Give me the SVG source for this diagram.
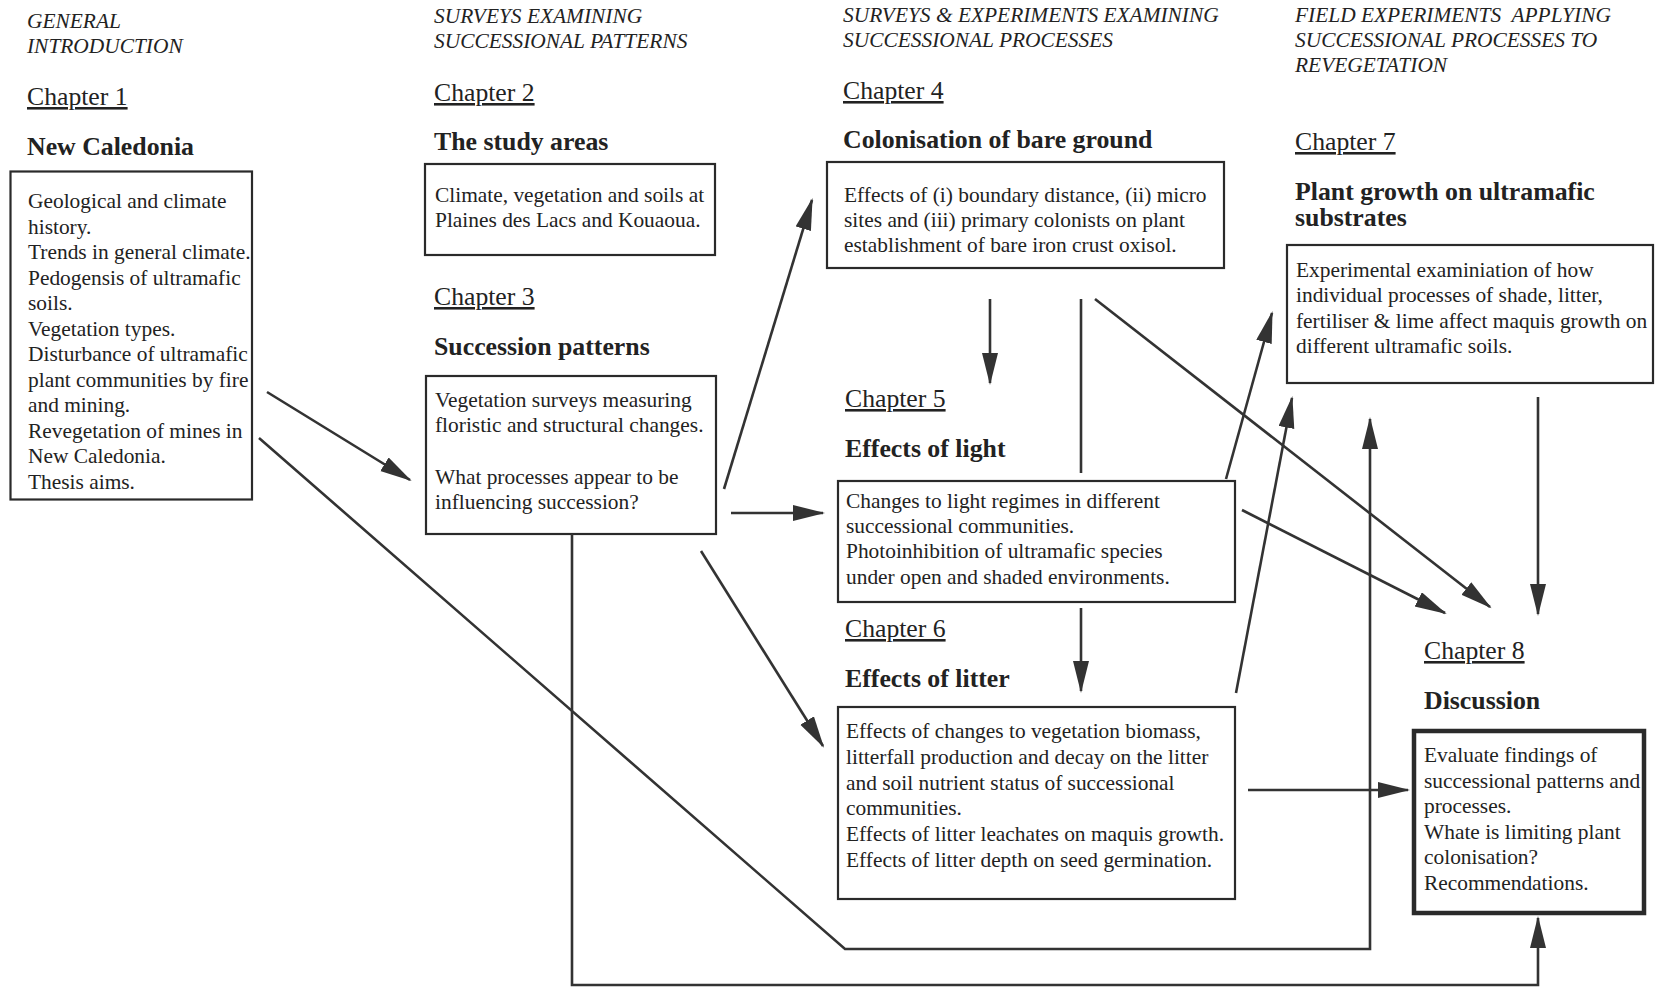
<svg xmlns="http://www.w3.org/2000/svg" width="1661" height="988" viewBox="0 0 1661 988">
<style>
text{font-family:"Liberation Serif","Times New Roman",serif;fill:#222}
.hd{font-style:italic;font-size:21.4px}
.ch{font-size:25.7px;text-decoration:underline}
.tt{font-weight:bold;font-size:25.8px}
.bd{font-size:21.4px}
.box{fill:none;stroke:#2a2a2a;stroke-width:2.2}
.box8{fill:none;stroke:#2a2a2a;stroke-width:4.5}
.cn{fill:none;stroke:#333;stroke-width:2.6}
.ar{marker-end:url(#ah)}
</style>
<defs>
<marker id="ah" markerUnits="userSpaceOnUse" markerWidth="34" markerHeight="17" refX="30" refY="8" orient="auto">
<path d="M0,0 L32,8 L0,16 z" fill="#333"/>
</marker>
</defs>
<rect width="1661" height="988" fill="#fff"/>

<g id="headers">
<text class="hd" x="27" y="28">GENERAL</text>
<text class="hd" x="27" y="53">INTRODUCTION</text>
<text class="hd" x="434" y="23">SURVEYS EXAMINING</text>
<text class="hd" x="434" y="48">SUCCESSIONAL PATTERNS</text>
<text class="hd" x="843" y="22">SURVEYS &amp; EXPERIMENTS EXAMINING</text>
<text class="hd" x="843" y="47">SUCCESSIONAL PROCESSES</text>
<text class="hd" x="1295" y="22" xml:space="preserve">FIELD EXPERIMENTS  APPLYING</text>
<text class="hd" x="1295" y="47">SUCCESSIONAL PROCESSES TO</text>
<text class="hd" x="1295" y="72">REVEGETATION</text>
</g>

<g id="ch1">
<text class="ch" x="27" y="105">Chapter 1</text>
<text class="tt" x="27" y="155">New Caledonia</text>
<rect class="box" x="10.5" y="171.5" width="241.5" height="328"/>
<text class="bd" x="28" y="208">Geological and climate</text>
<text class="bd" x="28" y="233.5">history.</text>
<text class="bd" x="28" y="259">Trends in general climate.</text>
<text class="bd" x="28" y="284.5">Pedogensis of ultramafic</text>
<text class="bd" x="28" y="310">soils.</text>
<text class="bd" x="28" y="335.5">Vegetation types.</text>
<text class="bd" x="28" y="361">Disturbance of ultramafic</text>
<text class="bd" x="28" y="386.5">plant communities by fire</text>
<text class="bd" x="28" y="412">and mining.</text>
<text class="bd" x="28" y="437.5">Revegetation of mines in</text>
<text class="bd" x="28" y="463">New Caledonia.</text>
<text class="bd" x="28" y="488.5">Thesis aims.</text>
</g>

<g id="ch2">
<text class="ch" x="434" y="101">Chapter 2</text>
<text class="tt" x="434" y="150">The study areas</text>
<rect class="box" x="425" y="164" width="290" height="91"/>
<text class="bd" x="435" y="202">Climate, vegetation and soils at</text>
<text class="bd" x="435" y="227">Plaines des Lacs and Kouaoua.</text>
</g>

<g id="ch3">
<text class="ch" x="434" y="305">Chapter 3</text>
<text class="tt" x="434" y="355">Succession patterns</text>
<rect class="box" x="426" y="376" width="290" height="158"/>
<text class="bd" x="435" y="407">Vegetation surveys measuring</text>
<text class="bd" x="435" y="432">floristic and structural changes.</text>
<text class="bd" x="435" y="484">What processes appear to be</text>
<text class="bd" x="435" y="509">influencing succession?</text>
</g>

<g id="ch4">
<text class="ch" x="843" y="99">Chapter 4</text>
<text class="tt" x="843" y="148">Colonisation of bare ground</text>
<rect class="box" x="827" y="162" width="397" height="106"/>
<text class="bd" x="844" y="202">Effects of (i) boundary distance, (ii) micro</text>
<text class="bd" x="844" y="227">sites and (iii) primary colonists on plant</text>
<text class="bd" x="844" y="252">establishment of bare iron crust oxisol.</text>
</g>

<g id="ch5">
<text class="ch" x="845" y="407">Chapter 5</text>
<text class="tt" x="845" y="457">Effects of light</text>
<rect class="box" x="838" y="481" width="397" height="121"/>
<text class="bd" x="846" y="508">Changes to light regimes in different</text>
<text class="bd" x="846" y="533">successional communities.</text>
<text class="bd" x="846" y="558">Photoinhibition of ultramafic species</text>
<text class="bd" x="846" y="584">under open and shaded environments.</text>
</g>

<g id="ch6">
<text class="ch" x="845" y="637">Chapter 6</text>
<text class="tt" x="845" y="687">Effects of litter</text>
<rect class="box" x="838" y="707" width="397" height="192"/>
<text class="bd" x="846" y="738">Effects of changes to vegetation biomass,</text>
<text class="bd" x="846" y="764">litterfall production and decay on the litter</text>
<text class="bd" x="846" y="790">and soil nutrient status of successional</text>
<text class="bd" x="846" y="815">communities.</text>
<text class="bd" x="846" y="841">Effects of litter leachates on maquis growth.</text>
<text class="bd" x="846" y="867">Effects of litter depth on seed germination.</text>
</g>

<g id="ch7">
<text class="ch" x="1295" y="150">Chapter 7</text>
<text class="tt" x="1295" y="200">Plant growth on ultramafic</text>
<text class="tt" x="1295" y="226">substrates</text>
<rect class="box" x="1287" y="245" width="366" height="138"/>
<text class="bd" x="1296" y="277">Experimental examiniation of how</text>
<text class="bd" x="1296" y="302">individual processes of shade, litter,</text>
<text class="bd" x="1296" y="328">fertiliser &amp; lime affect maquis growth on</text>
<text class="bd" x="1296" y="353">different ultramafic soils.</text>
</g>

<g id="ch8">
<text class="ch" x="1424" y="659">Chapter 8</text>
<text class="tt" x="1424" y="709">Discussion</text>
<rect class="box8" x="1414" y="731" width="230" height="182"/>
<text class="bd" x="1424" y="762">Evaluate findings of</text>
<text class="bd" x="1424" y="787.5">successional patterns and</text>
<text class="bd" x="1424" y="813">processes.</text>
<text class="bd" x="1424" y="838.5">Whate is limiting plant</text>
<text class="bd" x="1424" y="864">colonisation?</text>
<text class="bd" x="1424" y="889.5">Recommendations.</text>
</g>

<g id="connectors">
<line class="cn ar" x1="267" y1="392" x2="410" y2="480"/>
<polyline class="cn ar" points="259,438 845,949 1370,949 1370,419"/>
<line class="cn ar" x1="724" y1="489" x2="812" y2="200"/>
<line class="cn ar" x1="731" y1="513" x2="823" y2="513"/>
<line class="cn ar" x1="701" y1="551" x2="823" y2="746"/>
<polyline class="cn ar" points="572,534 572,985 1538,985 1538,918"/>
<line class="cn ar" x1="990" y1="299" x2="990" y2="383"/>
<line class="cn" x1="1081" y1="299" x2="1081" y2="473"/>
<line class="cn ar" x1="1081" y1="608" x2="1081" y2="691"/>
<line class="cn ar" x1="1095" y1="299" x2="1490" y2="607"/>
<line class="cn ar" x1="1226" y1="479" x2="1272" y2="313"/>
<line class="cn ar" x1="1242" y1="510" x2="1445" y2="613"/>
<line class="cn ar" x1="1236" y1="693" x2="1292" y2="398"/>
<line class="cn ar" x1="1248" y1="790" x2="1408" y2="790"/>
<line class="cn ar" x1="1538" y1="397" x2="1538" y2="614"/>
</g>
</svg>
